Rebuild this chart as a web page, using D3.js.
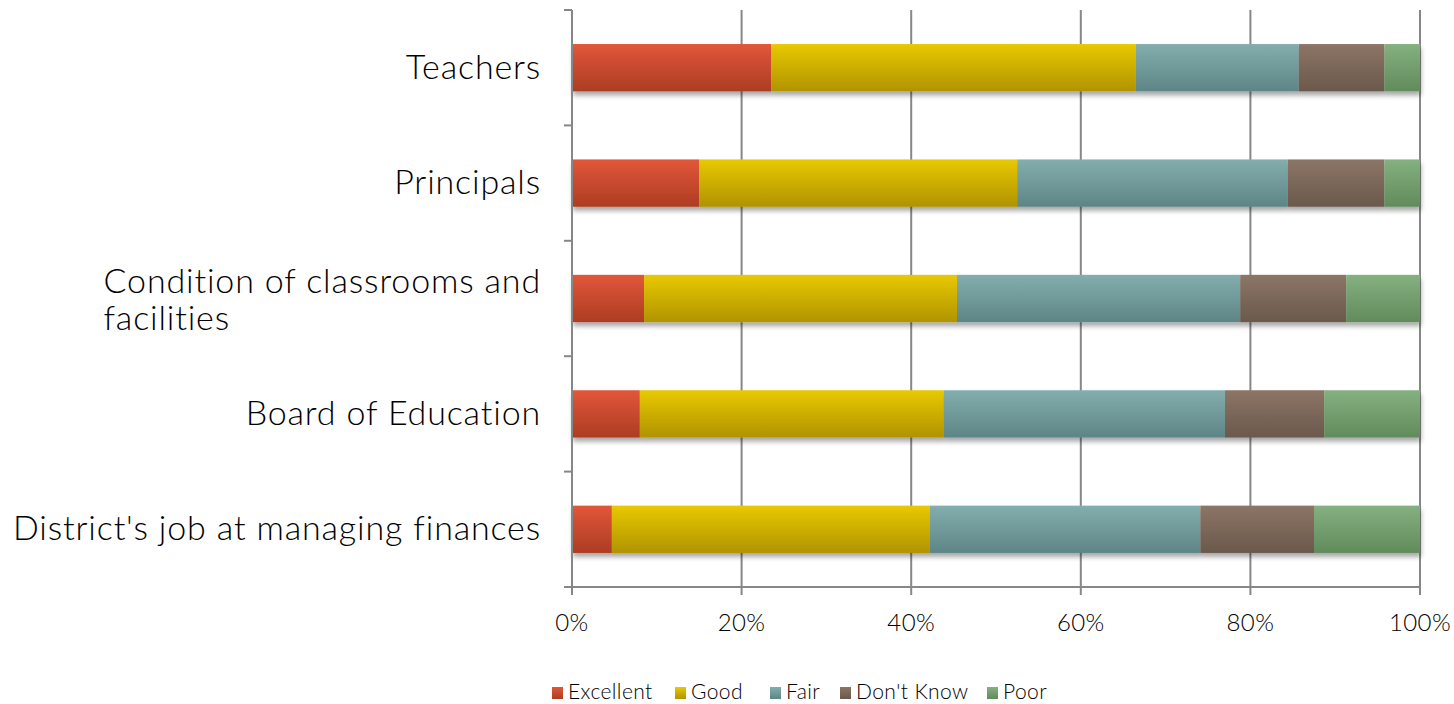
<!DOCTYPE html>
<html><head><meta charset="utf-8">
<script src="https://cdn.jsdelivr.net/npm/d3@7"></script>
<style>body{margin:0;background:#fff;}svg{display:block;}</style>
</head><body>
<svg id="chart" width="1454" height="704"></svg>
<script>
const categories = ["Teachers", "Principals", "Condition of classrooms and facilities", "Board of Education", "District's job at managing finances"];
const seriesNames = ["Excellent", "Good", "Fair", "Don't Know", "Poor"];
const excellent = [23.5, 15.0, 8.5, 8.0, 4.7];
const good      = [43.0, 37.5, 36.9, 35.8, 37.5];
const fair      = [19.2, 31.9, 33.4, 33.2, 31.9];
const dontKnow  = [10.1, 11.4, 12.5, 11.7, 13.4];
const poor      = [4.2, 4.2, 8.7, 11.3, 12.5];
const xTicks = [0, 20, 40, 60, 80, 100];

const seriesValues = [excellent, good, fair, dontKnow, poor];
const colorsTop = ["#e2563a", "#e8c900", "#83aeae", "#8c7566", "#85b07f"];
const colorsBot = ["#ac3d22", "#b09300", "#5e8585", "#6a594c", "#628b5c"];

const svg = d3.select("#chart");
const fontFam = "Lato, 'DejaVu Sans', sans-serif";
const fw = 300;
const m = {left: 572, right: 1420, top: 10, bottom: 587};

const defs = svg.append("defs");
seriesNames.forEach((s, i) => {
  const g = defs.append("linearGradient").attr("id", "g" + i).attr("x1", 0).attr("y1", 0).attr("x2", 0).attr("y2", 1);
  g.append("stop").attr("offset", "0%").attr("stop-color", colorsTop[i]);
  g.append("stop").attr("offset", "100%").attr("stop-color", colorsBot[i]);
});
const f = defs.append("filter").attr("id", "shadow").attr("x", "-5%").attr("y", "-20%").attr("width", "110%").attr("height", "160%");
f.append("feGaussianBlur").attr("in", "SourceAlpha").attr("stdDeviation", 2.5).attr("result", "b");
f.append("feOffset").attr("in", "b").attr("dx", 1).attr("dy", 4).attr("result", "o");
f.append("feComponentTransfer").attr("in", "o").attr("result", "oc").append("feFuncA").attr("type", "linear").attr("slope", 0.35);
const mg = f.append("feMerge");
mg.append("feMergeNode").attr("in", "oc");
mg.append("feMergeNode").attr("in", "SourceGraphic");

const x = d3.scaleLinear().domain([0, 100]).range([m.left, m.right]);
const y = d3.scaleBand().domain(categories).range([m.top, m.bottom]).paddingInner(0.59).paddingOuter(0.295);

svg.append("g").selectAll("line").data(xTicks).join("line")
  .attr("x1", d => x(d)).attr("x2", d => x(d)).attr("y1", m.top).attr("y2", m.bottom)
  .attr("stroke", "#878787").attr("stroke-width", 2);

const rows = categories.map((c, i) => {
  const o = {cat: c};
  seriesNames.forEach((s, j) => o[s] = seriesValues[j][i]);
  return o;
});
const stack = d3.stack().keys(seriesNames).offset(d3.stackOffsetExpand)(rows);

const bars = svg.append("g");
rows.forEach((r, i) => {
  const gRow = bars.append("g").attr("filter", "url(#shadow)");
  stack.forEach((layer, j) => {
    const d = layer[i];
    gRow.append("rect")
      .attr("x", x(d[0] * 100)).attr("width", x(d[1] * 100) - x(d[0] * 100))
      .attr("y", y(r.cat)).attr("height", y.bandwidth())
      .attr("fill", "url(#g" + j + ")");
  });
});

const step = (m.bottom - m.top) / categories.length;
svg.append("line").attr("x1", m.left).attr("x2", m.left).attr("y1", m.top).attr("y2", m.bottom)
  .attr("stroke", "#878787").attr("stroke-width", 2);
d3.range(categories.length + 1).forEach(k => {
  svg.append("line").attr("x1", m.left - 8).attr("x2", m.left).attr("y1", m.top + k * step).attr("y2", m.top + k * step)
    .attr("stroke", "#878787").attr("stroke-width", 2);
});
svg.append("line").attr("x1", m.left - 8).attr("x2", m.right).attr("y1", m.bottom).attr("y2", m.bottom)
  .attr("stroke", "#878787").attr("stroke-width", 2);
xTicks.forEach(t => {
  svg.append("line").attr("x1", x(t)).attr("x2", x(t)).attr("y1", m.bottom).attr("y2", m.bottom + 8)
    .attr("stroke", "#878787").attr("stroke-width", 2);
  svg.append("text").attr("x", x(t)).attr("y", 631).attr("text-anchor", "middle")
    .attr("font-family", fontFam).attr("font-weight", fw).attr("font-size", 24).attr("letter-spacing", 0.4).attr("fill", "#000").text(t + "%");
});

const labelX = 541;
const labelSize = 34;
const ls = 0.85;
categories.forEach(c => {
  const cy = y(c) + y.bandwidth() / 2;
  if (c === "Condition of classrooms and facilities") {
    const t = svg.append("text").attr("font-family", fontFam).attr("font-weight", fw).attr("font-size", labelSize).attr("letter-spacing", ls).attr("fill", "#000");
    const l1 = t.append("tspan").attr("x", 0).attr("y", cy - 6).text("Condition of classrooms and");
    const w = l1.node().getComputedTextLength();
    l1.attr("x", labelX - w);
    t.append("tspan").attr("x", labelX - w).attr("y", cy + 31).text("facilities");
  } else {
    svg.append("text").attr("x", labelX).attr("y", cy + 11).attr("text-anchor", "end")
      .attr("font-family", fontFam).attr("font-weight", fw).attr("font-size", labelSize).attr("letter-spacing", ls).attr("fill", "#000").text(c);
  }
});

const legendX = [552, 675, 770, 840, 987];
seriesNames.forEach((s, j) => {
  svg.append("rect").attr("x", legendX[j]).attr("y", 687).attr("width", 11).attr("height", 12).attr("fill", "url(#g" + j + ")");
  svg.append("text").attr("x", legendX[j] + 16).attr("y", 699).attr("font-family", fontFam).attr("font-weight", fw).attr("font-size", 21).attr("letter-spacing", 0.4).attr("fill", "#000").text(s);
});
</script>
</body></html>
